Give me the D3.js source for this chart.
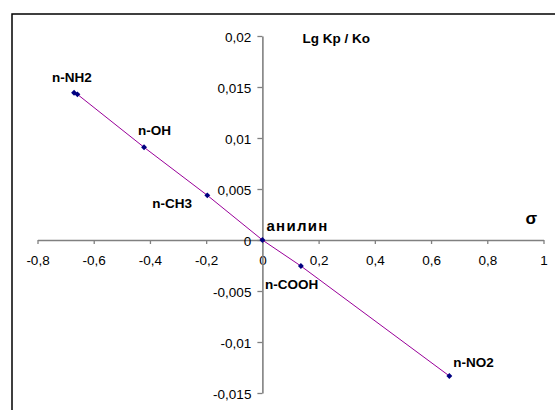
<!DOCTYPE html>
<html>
<head>
<meta charset="utf-8">
<script src="https://cdn.jsdelivr.net/npm/d3@7"></script>
<style>
  html, body { margin: 0; padding: 0; background: #fff; }
  svg { display: block; font-family: "Liberation Sans", Arial, sans-serif; }
</style>
</head>
<body>
<svg id="chart" width="555" height="410"></svg>
<script>
// Substituent constants (sigma) and log(Kp/Ko) for para-substituted anilines
const substituents = ["n-NH2", "n-NH2", "n-OH", "n-CH3", "анилин", "n-COOH", "n-NO2"];
const sigmaValues  = [-0.670, -0.658, -0.421, -0.196, 0, 0.137, 0.665];
const lgKValues    = [0.01444, 0.01428, 0.00909, 0.00438, 0, -0.00255, -0.01333];

const xTicks = [-0.8, -0.6, -0.4, -0.2, 0, 0.2, 0.4, 0.6, 0.8, 1];
const yTicks = [-0.015, -0.01, -0.005, 0, 0.005, 0.01, 0.015, 0.02];

// Point labels: which point each label belongs to, with an offset
const labelIndex = [0, 2, 3, 4, 5, 6];
const labelDx = [-22, -6, -55, 4, -36, 4];
const labelDy = [-11, -12, 13, -9, 23, -9];

const svg = d3.select("#chart");
const fmt = v => String(v).replace(".", ",");

const x = d3.scaleLinear().domain([-0.8, 1]).range([37.5, 543.5]);
const y = d3.scaleLinear().domain([-0.015, 0.02]).range([393, 36]);

// Outer frame of the chart area
svg.append("rect")
  .attr("x", 12).attr("y", 14)
  .attr("width", 600).attr("height", 420)
  .attr("fill", "none").attr("stroke", "#000").attr("stroke-width", 1.5);

// X axis through y = 0
const gx = svg.append("g")
  .attr("transform", `translate(0,${y(0)})`)
  .call(d3.axisBottom(x).tickValues(xTicks).tickFormat(fmt).tickSize(4).tickSizeOuter(0));
gx.select(".domain").attr("stroke", "#808080").attr("stroke-width", 1.3);
gx.selectAll(".tick line").attr("stroke", "#808080").attr("stroke-width", 1.3);
gx.selectAll(".tick text")
  .attr("y", 25).attr("dy", 0)
  .attr("fill", "#000")
  .style("font-size", "13.5px")
  .style("font-family", "'Liberation Sans', Arial, sans-serif");

// Y axis through x = 0
const gy = svg.append("g")
  .attr("transform", `translate(${x(0)},0)`)
  .call(d3.axisLeft(y).tickValues(yTicks).tickFormat(fmt).tickSize(5).tickSizeOuter(0));
gy.select(".domain").attr("stroke", "#808080").attr("stroke-width", 1.6);
gy.selectAll(".tick line").attr("stroke", "#808080").attr("stroke-width", 1.3);
gy.selectAll(".tick text")
  .attr("x", -11).attr("dy", "0.38em")
  .attr("fill", "#000")
  .style("font-size", "13.5px")
  .style("font-family", "'Liberation Sans', Arial, sans-serif");

// Data line
const pts = sigmaValues.map((s, i) => [s, lgKValues[i]]).sort((a, b) => a[0] - b[0]);
svg.append("path")
  .datum(pts)
  .attr("fill", "none")
  .attr("stroke", "#990099")
  .attr("stroke-width", 1)
  .attr("d", d3.line().x(d => x(d[0])).y(d => y(d[1])));

// Markers (square diamonds)
const diamond = d3.symbolDiamond2 || d3.symbolDiamond;
svg.append("g").selectAll("path")
  .data(pts)
  .join("path")
  .attr("transform", d => `translate(${x(d[0])},${y(d[1])})`)
  .attr("d", d3.symbol(diamond, 22))
  .attr("fill", "#000080");

// Point labels
svg.append("g").selectAll("text")
  .data(labelIndex)
  .join("text")
  .attr("x", (d, i) => x(sigmaValues[d]) + labelDx[i])
  .attr("y", (d, i) => y(lgKValues[d]) + labelDy[i])
  .attr("font-weight", "bold")
  .attr("font-size", d => substituents[d] === "анилин" ? "15px" : "13.5px")
  .attr("letter-spacing", d => substituents[d] === "анилин" ? "1.3px" : null)
  .text(d => substituents[d]);

// Axis titles
svg.append("text")
  .attr("x", 302.5).attr("y", 42.5)
  .attr("font-weight", "bold").attr("font-size", "13.5px")
  .text("Lg Kp / Ko");
svg.append("text")
  .attr("x", 525.5).attr("y", 223.5)
  .attr("font-weight", "bold").attr("font-size", "17px")
  .text("σ");
</script>
</body>
</html>
